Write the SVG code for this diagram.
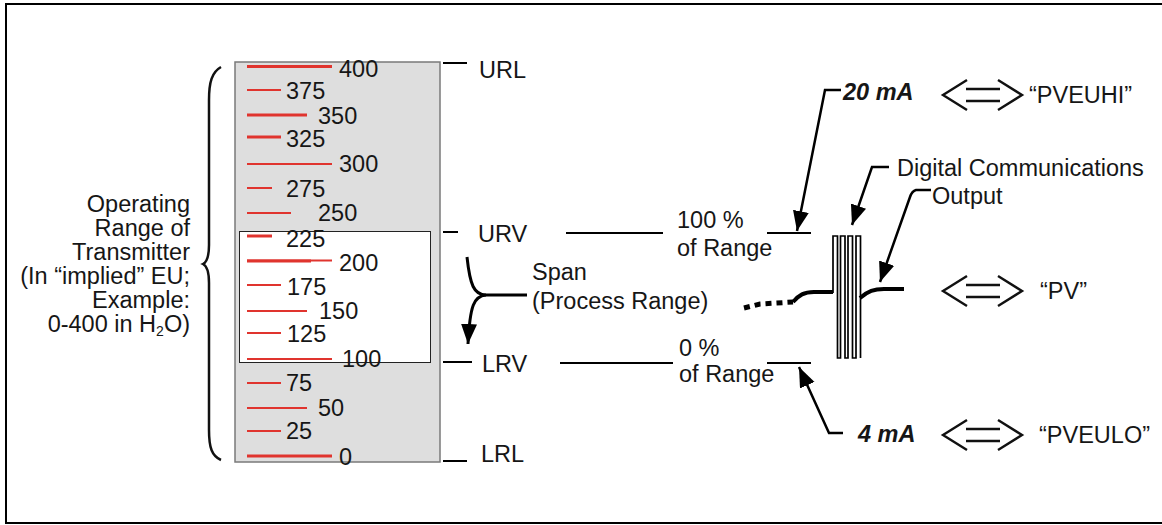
<svg xmlns="http://www.w3.org/2000/svg" width="1162" height="525" viewBox="0 0 1162 525">
<style>
text{font-family:"Liberation Sans",Arial,sans-serif;font-size:23.5px;fill:#161616}
.bi{font-weight:bold;font-style:italic}
.tk{stroke:#e0342e;stroke-width:2}
.tkb{stroke:#e0342e;stroke-width:3}
.ln{stroke:#000;stroke-width:2;fill:none}
.ar{stroke:#000;stroke-width:2.5;fill:none}
.dbl{stroke:#111;stroke-width:2.4;fill:none}
</style>
<defs>
<marker id="ah" markerUnits="userSpaceOnUse" markerWidth="22" markerHeight="18" refX="20" refY="8" orient="auto" viewBox="0 0 22 18">
<path d="M0,0 L20,8 L0,16 z" fill="#000"/>
</marker>
<g id="dblarrow" class="dbl">
<path d="M967 80 L943 95 L967 110"/>
<path d="M998 80 L1022 95 L998 110"/>
<path d="M966 89 H1000 M966 101 H1000"/>
</g>
</defs>
<rect x="6" y="4" width="1170" height="519" fill="#fff" stroke="#000" stroke-width="2"/>

<g id="range-label">
<text x="190" y="212" text-anchor="end">Operating</text>
<text x="190" y="236" text-anchor="end">Range of</text>
<text x="190" y="260" text-anchor="end">Transmitter</text>
<text x="190" y="284" text-anchor="end">(In “implied” EU;</text>
<text x="190" y="308" text-anchor="end">Example:</text>
<text x="190" y="332" text-anchor="end">0-400 in H<tspan font-size="14" dy="4">2</tspan><tspan dy="-4">O)</tspan></text>
<path d="M221 67 C212 72 209 82 209 100 L209 245 C209 256 207 262 203 264 C207 266 209 272 209 283 L209 430 C209 448 212 456 221 460" fill="none" stroke="#111" stroke-width="2.5"/>
</g>

<g id="scale">
<rect x="235" y="62" width="205" height="400" fill="#dedede" stroke="#7a7a7a" stroke-width="1.5"/>
<rect x="239.5" y="231.5" width="191" height="131" fill="#fff" stroke="#222" stroke-width="1"/>
<line class="tkb" x1="247" y1="66.5" x2="332" y2="66.5"/>
<line class="tk" x1="247" y1="90" x2="281" y2="90"/>
<line class="tkb" x1="247" y1="115" x2="307" y2="115"/>
<line class="tkb" x1="247" y1="137" x2="281" y2="137"/>
<line class="tk" x1="247" y1="164" x2="332" y2="164"/>
<line class="tk" x1="247" y1="188" x2="272" y2="188"/>
<line class="tk" x1="247" y1="213" x2="291" y2="213"/>
<line class="tkb" x1="247" y1="236" x2="272" y2="236"/>
<line class="tk" x1="247" y1="260.5" x2="332" y2="260.5"/>
<line class="tkb" x1="247" y1="261" x2="311" y2="261"/>
<line class="tk" x1="247" y1="285" x2="281" y2="285"/>
<line class="tk" x1="247" y1="311" x2="307" y2="311"/>
<line class="tk" x1="247" y1="333" x2="281" y2="333"/>
<line class="tk" x1="247" y1="359" x2="332" y2="359"/>
<line class="tk" x1="247" y1="383" x2="281" y2="383"/>
<line class="tk" x1="247" y1="408" x2="307" y2="408"/>
<line class="tk" x1="247" y1="431" x2="281" y2="431"/>
<line class="tkb" x1="247" y1="456" x2="332" y2="456"/>
<text x="339" y="77">400</text>
<text x="286" y="99">375</text>
<text x="318" y="124">350</text>
<text x="286" y="147">325</text>
<text x="339" y="172">300</text>
<text x="286" y="197">275</text>
<text x="318" y="221">250</text>
<text x="286" y="247">225</text>
<text x="339" y="271">200</text>
<text x="287" y="295">175</text>
<text x="319" y="319">150</text>
<text x="287" y="342">125</text>
<text x="342" y="367">100</text>
<text x="286" y="391">75</text>
<text x="318" y="416">50</text>
<text x="286" y="439">25</text>
<text x="339" y="465">0</text>
</g>

<g id="limits">
<line class="ln" x1="443" y1="63" x2="467" y2="63"/>
<text x="479" y="78">URL</text>
<line class="ln" x1="443" y1="232" x2="458" y2="232"/>
<text x="478" y="242">URV</text>
<line class="ln" x1="443" y1="362" x2="472" y2="362"/>
<text x="482" y="372">LRV</text>
<line class="ln" x1="443" y1="461" x2="467" y2="461"/>
<text x="481" y="462">LRL</text>
</g>

<g id="span">
<path d="M467 257 C470 285 474 295 486 295 L527 295" fill="none" stroke="#000" stroke-width="3"/>
<path d="M486 295 C474 296 470 305 468 344" fill="none" stroke="#000" stroke-width="3" marker-end="url(#ah)"/>
<text x="532" y="280">Span</text>
<text x="532" y="309">(Process Range)</text>
</g>

<g id="pct">
<line class="ln" x1="566" y1="233" x2="663" y2="233"/>
<text x="677" y="228">100 %</text>
<text x="677" y="256">of Range</text>
<line class="ln" x1="767" y1="233" x2="811" y2="233"/>
<line class="ln" x1="560" y1="363" x2="673" y2="363"/>
<text x="679" y="356">0 %</text>
<text x="679" y="382">of Range</text>
<line class="ln" x1="767" y1="363" x2="811" y2="363"/>
</g>

<g id="signal">
<path d="M744 308 L760 304 L793 302" fill="none" stroke="#000" stroke-width="5" stroke-dasharray="6 5"/>
<path d="M793 302 C799 295 804 292 814 292 L833 292" fill="none" stroke="#000" stroke-width="4"/>
<path d="M833 293 V236 H837.5 V358 H840.5 V236 H845 V358 H848 V236 H852.5 V358 H856 V236 H860.5 V358" fill="none" stroke="#000" stroke-width="1.7"/>
<path d="M860 298 C868 291 874 289 884 289 L904 289" fill="none" stroke="#000" stroke-width="4"/>
</g>

<g id="connectors">
<path class="ar" d="M841 90 L825 90 L797 231" marker-end="url(#ah)"/>
<path class="ar" d="M889 167 L872 167 L852 225" marker-end="url(#ah)"/>
<path class="ar" d="M931 190 L916 190 Q912 191 910 197 L880 282" marker-end="url(#ah)"/>
<path class="ar" d="M843 433 L829 433 L799 367" marker-end="url(#ah)"/>
</g>

<g id="hi">
<text class="bi" x="843" y="100">20 mA</text>
<use href="#dblarrow"/>
<text x="1029" y="103">“PVEUHI”</text>
</g>
<g id="digital">
<text x="897" y="176">Digital Communications</text>
<text x="932" y="204">Output</text>
</g>
<g id="pv">
<use href="#dblarrow" transform="translate(0,196)"/>
<text x="1040" y="299">“PV”</text>
</g>
<g id="lo">
<text class="bi" x="858" y="442">4 mA</text>
<use href="#dblarrow" transform="translate(0,340)"/>
<text x="1039" y="443">“PVEULO”</text>
</g>
</svg>
